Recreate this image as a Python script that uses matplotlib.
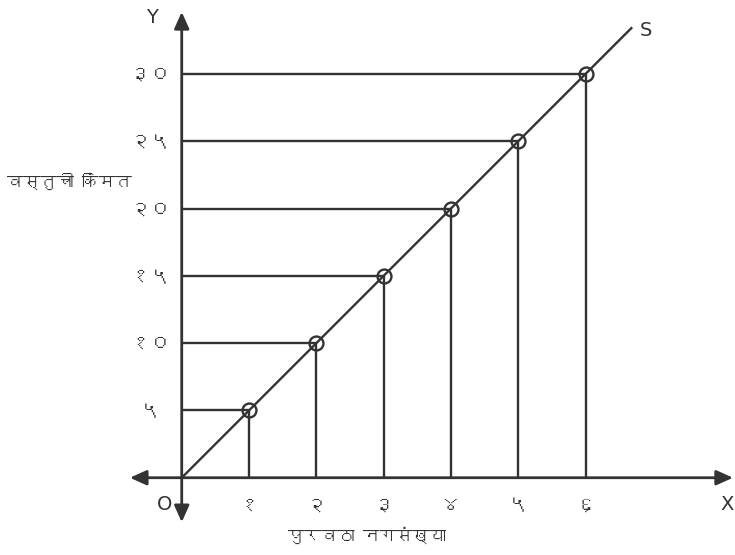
import matplotlib
matplotlib.use("Agg")
import matplotlib.pyplot as plt
from matplotlib import font_manager
from matplotlib.ft2font import FT2Font

# -----------------------------
# Data
# -----------------------------
quantity = [1, 2, 3, 4, 5, 6]
price = [5, 10, 15, 20, 25, 30]
x_tick_labels = ["१", "२", "३", "४", "५", "६"]
y_tick_labels = ["५", "१०", "१५", "२०", "२५", "३०"]
x_title = "पुरवठा नगसंख्या"
y_title = "वस्तुची किंमत"
s_line_end = 6.68   # supply line runs a bit past the last point

# -----------------------------
# Find a font with Devanagari
# -----------------------------
def find_devanagari_font():
    for f in font_manager.fontManager.ttflist:
        try:
            if 0x0935 in FT2Font(f.fname).get_charmap():
                return f.name
        except Exception:
            pass
    return None

deva = find_devanagari_font()
fams = [deva, "DejaVu Sans"] if deva else ["DejaVu Sans"]
plt.rcParams["font.family"] = fams

INK = "#333333"

# -----------------------------
# Figure: axes fill the whole canvas, data scale
# -----------------------------
fig = plt.figure(figsize=(7.35, 5.55), dpi=100)
ax = fig.add_axes([0, 0, 1, 1])
ax.set_xlim(-2.70, 8.22)
ax.set_ylim(-5.74, 35.49)
ax.axis("off")

# axes with arrow heads
arrow = dict(arrowstyle="-|>,head_length=1.0,head_width=0.45", color=INK, lw=2.0,
             shrinkA=0, shrinkB=0)
ax.annotate("", xy=(8.19, 0), xytext=(0, 0), arrowprops=arrow)
ax.annotate("", xy=(-0.77, 0), xytext=(0, 0), arrowprops=arrow)
ax.annotate("", xy=(0, 34.6), xytext=(0, 0), arrowprops=arrow)
ax.annotate("", xy=(0, -3.3), xytext=(0, 0), arrowprops=arrow)

# guide lines to the axes
ax.hlines(price, 0, quantity, color=INK, lw=1.7)
ax.vlines(quantity, 0, price, color=INK, lw=1.7)

# supply line
ax.plot([0, s_line_end], [0, 5 * s_line_end], color=INK, lw=1.7)
ax.plot(quantity, price, "o", ms=10, mfc="none", mec=INK, mew=1.7)

# tick labels
for q, lab in zip(quantity, x_tick_labels):
    ax.text(q, -2.0, lab, ha="center", va="center", fontsize=15, color=INK)
for p, lab in zip(price, y_tick_labels):
    ax.text(-0.47, p, lab, ha="center", va="center", fontsize=15, color=INK)

# axis letters
ax.text(-0.25, -2.0, "O", ha="center", va="center", fontsize=14, color=INK,
        family="DejaVu Sans")
ax.text(8.1, -2.0, "X", ha="center", va="center", fontsize=14, color=INK,
        family="DejaVu Sans")
ax.text(-0.44, 34.2, "Y", ha="center", va="center", fontsize=14, color=INK,
        family="DejaVu Sans")
ax.text(6.9, 33.2, "S", ha="center", va="center", fontsize=14, color=INK,
        family="DejaVu Sans")

# titles
ax.text(2.75, -4.3, x_title, ha="center", va="center", fontsize=12, color=INK)
ax.text(-2.6, 22.0, y_title, ha="left", va="center", fontsize=12, color=INK)

fig.savefig("out.png", dpi=100)
